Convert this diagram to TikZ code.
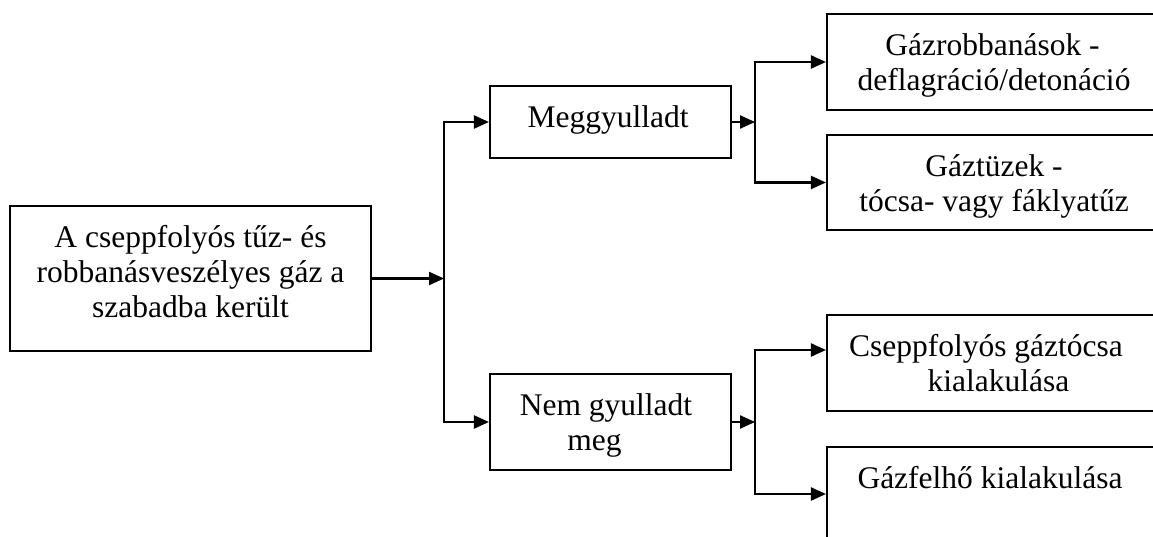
\documentclass[tikz,border=0pt]{standalone}
\usepackage{fontspec}
\setmainfont{Liberation Serif}
\usetikzlibrary{arrows.meta}
\newcommand{\capstrut}{\rule{0pt}{24pt}}
\begin{document}
\begin{tikzpicture}[x=1pt,y=-1pt,
  box/.style={draw, line width=2.1pt, inner sep=0pt},
  txt/.style={anchor=north, inner sep=0pt, align=center,
    font=\fontsize{31.5}{35}\selectfont},
  link/.style={line width=2.1pt, -{Triangle[length=15pt,width=13pt]}}]
\useasboundingbox (0,0) rectangle (1153,537);
\clip (0,0) rectangle (1153,537);

% boxes
\node[box, minimum width=361pt, minimum height=145pt] (main)   at (190.5,278.5) {};
\node[box, minimum width=241pt, minimum height=72pt]  (meg)    at (610.5,122)   {};
\node[box, minimum width=241pt, minimum height=96pt]  (nem)    at (610.5,422)   {};
\node[box, minimum width=334pt, minimum height=96pt]  (gazrob) at (994,62)      {};
\node[box, minimum width=334pt, minimum height=95pt]  (gaztuz) at (994,182.5)   {};
\node[box, minimum width=334pt, minimum height=96pt]  (csepp)  at (994,363)     {};
\node[box, minimum width=334pt, minimum height=94pt]  (felho)  at (994,494)     {};

% box texts
\node[txt] (main-t)   at ([yshift=-18pt]main.north)
  {\capstrut A cseppfolyós tűz- és\\robbanásveszélyes gáz a\\szabadba került};
\node[txt] (meg-t)    at ([yshift=-18pt]meg.north)
  {\capstrut Meggyulladt\hspace*{5pt}};
\node[txt] (nem-t)    at ([yshift=-18pt]nem.north)
  {\capstrut Nem gyulladt\hspace*{9pt}\\meg\hspace*{32pt}};
\node[txt] (gazrob-t) at ([yshift=-18pt]gazrob.north)
  {\capstrut Gázrobbanások -\hspace*{3pt}\\deflagráció/detonáció};
\node[txt] (gaztuz-t) at ([yshift=-18pt]gaztuz.north)
  {\capstrut Gáztüzek -\\tócsa- vagy fáklyatűz};
\node[txt] (csepp-t)  at ([yshift=-18pt]csepp.north)
  {\capstrut Cseppfolyós gáztócsa\hspace*{16pt}\\\hspace*{9pt}kialakulása};
\node[txt] (felho-t)  at ([yshift=-18pt]felho.north)
  {\capstrut Gázfelhő kialakulása\hspace*{8pt}};

% branching points
\coordinate (f1) at ([xshift=72pt]main.east);
\coordinate (f2) at ([xshift=23pt]meg.east);
\coordinate (f3) at ([xshift=23pt]nem.east);

% connectors
\draw[link] (main.east) -- (f1);
\draw[link] (f1) |- (meg);
\draw[link] (f1) |- (nem);
\draw[link] (meg.east) -- (f2);
\draw[link] (f2) |- (gazrob);
\draw[link] (f2) |- (gaztuz);
\draw[link] (nem.east) -- (f3);
\draw[link] (f3) |- ([yshift=13pt]csepp.west);
\draw[link] (f3) |- (felho);
\end{tikzpicture}
\end{document}
